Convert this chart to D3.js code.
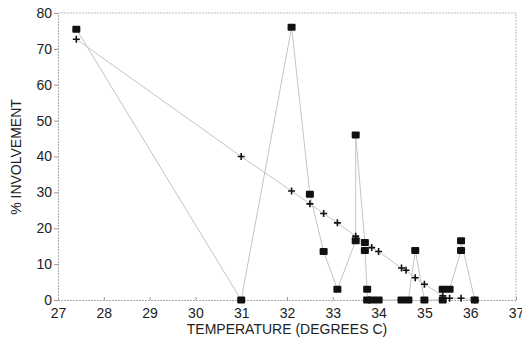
<!DOCTYPE html>
<html>
<head>
<meta charset="utf-8">
<script src="https://cdn.jsdelivr.net/npm/d3@7"></script>
<style>
  body { margin: 0; background: #fff; }
  text { font-family: "Liberation Sans", Arial, sans-serif; fill: #222; }
</style>
</head>
<body>
<svg class="chart"></svg>
<script>
// observed involvement (squares)
let obsTemp = [27.4, 31.0, 32.1, 32.5, 32.8, 33.1, 33.5, 33.5, 33.7, 33.7, 33.75, 33.75, 33.85, 34.0, 34.5, 34.65, 34.8, 35.0, 35.4, 35.4, 35.55, 35.8, 35.8, 36.1];
let obsPct = [75.5, 0, 76, 29.5, 13.5, 3, 16.5, 46, 16, 13.8, 3, 0, 0, 0, 0, 0, 13.8, 0, 0, 3, 3, 13.8, 16.5, 0];

// fitted involvement (pluses)
let fitTemp = [27.4, 31.0, 32.1, 32.5, 32.8, 33.1, 33.5, 33.7, 33.85, 34.0, 34.5, 34.6, 34.8, 35.0, 35.4, 35.55, 35.8, 36.1];
let fitPct = [72.7, 40, 30.4, 26.8, 24.1, 21.5, 17.8, 16.0, 14.6, 13.5, 8.9, 8.3, 6.2, 4.4, 1.2, 0.5, 0.5, 0];

let xTicks = [27, 28, 29, 30, 31, 32, 33, 34, 35, 36, 37];
let yTicks = [0, 10, 20, 30, 40, 50, 60, 70, 80];

let W = 522, H = 339;
let margin = {top: 13, right: 6, bottom: 39, left: 58};
let width = W - margin.left - margin.right, height = H - margin.top - margin.bottom;

let svg = d3.select(".chart").attr("width", W).attr("height", H);
let chart = svg.append("g").attr("transform", "translate(" + margin.left + "," + margin.top + ")");

let x = d3.scaleLinear().domain([27, 37]).range([0, width]);
let y = d3.scaleLinear().domain([0, 80]).range([height, 0]);

// frame: top and right dotted
chart.append("path")
  .attr("d", "M0,0H" + width + "V" + height)
  .attr("fill", "none").attr("stroke", "#bbb").attr("stroke-dasharray", "2,1");

let xAxis = chart.append("g")
  .attr("transform", "translate(0," + height + ")")
  .call(d3.axisBottom(x).tickValues(xTicks).tickSize(-3).tickPadding(8).tickFormat(d3.format("d")));
let yAxis = chart.append("g")
  .call(d3.axisLeft(y).tickValues(yTicks).tickSize(4).tickPadding(2));

[xAxis, yAxis].forEach(function(a) {
  a.select(".domain").attr("stroke", "#aaa").attr("stroke-dasharray", "2,1");
  a.selectAll(".tick line").attr("stroke", "#999");
  a.selectAll(".tick text").attr("font-size", 14).attr("fill", "#222");
});

let obs = obsTemp.map(function(t, i) { return {t: t, v: obsPct[i]}; });
let fit = fitTemp.map(function(t, i) { return {t: t, v: fitPct[i]}; });

let line = d3.line()
  .x(function(d) { return x(d.t); })
  .y(function(d) { return y(d.v); });

chart.append("path").datum(fit)
  .attr("d", line).attr("fill", "none").attr("stroke", "#c4c4c4").attr("stroke-width", 1);
chart.append("path").datum(obs)
  .attr("d", line).attr("fill", "none").attr("stroke", "#c4c4c4").attr("stroke-width", 1);

chart.selectAll(".plus")
  .data(fit)
  .enter().append("path")
  .attr("class", "plus")
  .attr("d", function(d) {
    let px = x(d.t), py = y(d.v);
    return "M" + (px - 3.5) + "," + py + "H" + (px + 3.5) + "M" + px + "," + (py - 3.5) + "V" + (py + 3.5);
  })
  .attr("stroke", "#111").attr("stroke-width", 1.6);

chart.selectAll(".sq")
  .data(obs)
  .enter().append("rect")
  .attr("class", "sq")
  .attr("x", function(d) { return x(d.t) - 4; })
  .attr("y", function(d) { return y(d.v) - 3.5; })
  .attr("width", 8)
  .attr("height", 7)
  .attr("rx", 1)
  .attr("fill", "#111");

svg.append("text")
  .attr("transform", "translate(21,157) rotate(-90)")
  .attr("text-anchor", "middle")
  .attr("font-size", 14)
  .text("% INVOLVEMENT");

svg.append("text")
  .attr("x", 287).attr("y", 334)
  .attr("text-anchor", "middle")
  .attr("font-size", 14)
  .text("TEMPERATURE (DEGREES C)");
</script>
</body>
</html>
